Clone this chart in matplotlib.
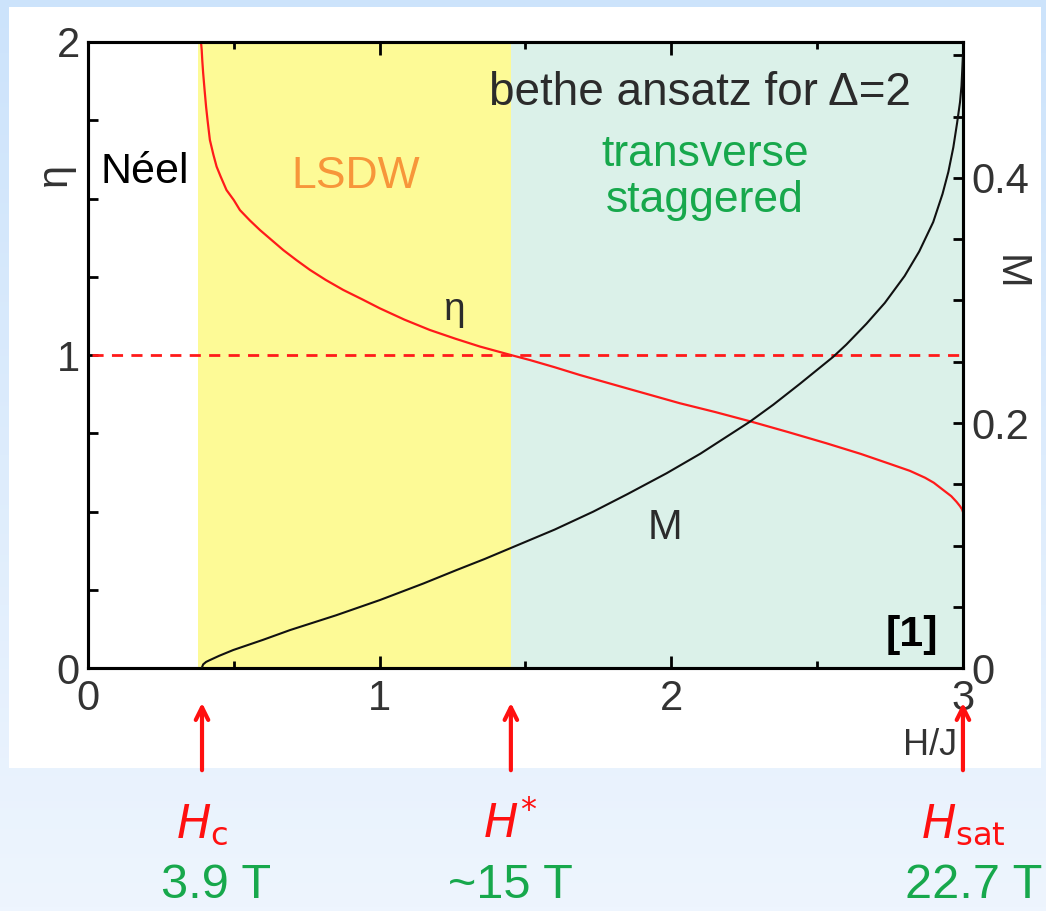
import numpy as np
import matplotlib.pyplot as plt
import matplotlib.transforms as mtransforms
from matplotlib.patches import Rectangle
from matplotlib.ticker import MultipleLocator, FixedLocator, FixedFormatter

plt.rcParams['font.family'] = ['Liberation Sans', 'DejaVu Sans']

# Bethe ansatz results for Delta = 2 (read in units of H/J)
h_eta = [0.387, 0.3885, 0.390, 0.392, 0.395, 0.400, 0.405, 0.410, 0.418, 0.430,
         0.441, 0.455, 0.475, 0.500, 0.521, 0.555, 0.590, 0.630, 0.670, 0.715,
         0.761, 0.815, 0.875, 0.940, 1.001, 1.085, 1.172, 1.260, 1.344, 1.450,
         1.515, 1.600, 1.687, 1.850, 2.029, 2.150, 2.275, 2.400, 2.532, 2.650,
         2.750, 2.818, 2.870, 2.900, 2.932, 2.960, 2.978, 2.990, 2.997, 3.000]
eta = [2.000, 1.990, 1.974, 1.940, 1.900, 1.845, 1.793, 1.750, 1.687, 1.640,
       1.602, 1.570, 1.527, 1.495, 1.463, 1.430, 1.399, 1.367, 1.335, 1.303,
       1.272, 1.240, 1.208, 1.178, 1.149, 1.113, 1.080, 1.052, 1.027, 1.000,
       0.984, 0.961, 0.936, 0.893, 0.846, 0.818, 0.787, 0.754, 0.718, 0.684,
       0.652, 0.630, 0.608, 0.592, 0.569, 0.549, 0.531, 0.517, 0.507, 0.499]

h_m = [0.390, 0.395, 0.405, 0.418, 0.450, 0.498, 0.600, 0.693, 0.850, 1.001,
       1.150, 1.264, 1.360, 1.450, 1.600, 1.732, 1.850, 1.984, 2.100, 2.269,
       2.350, 2.441, 2.555, 2.600, 2.669, 2.732, 2.800, 2.850, 2.898, 2.930,
       2.950, 2.967, 2.980, 2.990, 2.995, 3.000]
m = [0.000, 0.003, 0.005, 0.0065, 0.010, 0.0147, 0.023, 0.031, 0.043, 0.0555,
     0.069, 0.080, 0.089, 0.098, 0.113, 0.1276, 0.142, 0.159, 0.175, 0.201,
     0.215, 0.232, 0.254, 0.264, 0.281, 0.298, 0.320, 0.340, 0.364, 0.387,
     0.405, 0.425, 0.445, 0.462, 0.475, 0.500]

# phase boundaries
h_c, h_star, h_sat = 0.385, 1.45, 3.0
field_names = [r'$\mathit{H}_\mathrm{c}$', r'$\mathit{H}^{*}$', r'$\mathit{H}_\mathrm{sat}$']
field_values = ['3.9 T', '~15 T', '22.7 T']

fig = plt.figure(figsize=(10.46, 9.11), dpi=100)

# slide background: pale blue gradient with a white panel
bg = fig.add_axes([0, 0, 1, 1])
grad = np.linspace(0, 1, 256).reshape(-1, 1)
c_top = np.array([204, 227, 251]) / 255
c_bot = np.array([238, 245, 254]) / 255
img = c_top + (c_bot - c_top) * grad[:, :, None]
bg.imshow(img, aspect='auto', extent=[0, 1, 0, 1], origin='upper')
bg.add_patch(Rectangle((0.0086, 0.157), 0.9866, 0.8353, color='white', lw=0))
bg.set_xlim(0, 1)
bg.set_ylim(0, 1)
bg.axis('off')

ax = fig.add_axes([0.0841, 0.2667, 0.8365, 0.6872])
ax.set_xlim(0, 3)
ax.set_ylim(0, 2)

ax.axvspan(0.377, h_star, color='#fdfa96', lw=0, zorder=0)
ax.axvspan(h_star, h_sat, color='#dbf1e9', lw=0, zorder=0)

ax.axhline(1, xmin=0.005, xmax=0.995, color='#ff1a1a', lw=2, dashes=(4, 3), zorder=2)
ax.plot(h_eta, eta, color='#ff1a1a', lw=1.6, zorder=3)

ax2 = ax.twinx()
ax2.set_ylim(0, 0.511)
ax2.plot(h_m, m, color='#111111', lw=1.5, zorder=3)

for a in (ax, ax2):
    for s in a.spines.values():
        s.set_linewidth(2.2)

tick_col = '#333333'
ax.xaxis.set_major_locator(MultipleLocator(1))
ax.xaxis.set_minor_locator(MultipleLocator(0.5))
ax.yaxis.set_major_locator(MultipleLocator(1))
ax.yaxis.set_minor_locator(MultipleLocator(0.25))
ax.tick_params(axis='x', which='both', direction='in', top=True, bottom=True,
               labelsize=30, labelcolor=tick_col, pad=8, width=2)
ax.tick_params(axis='x', which='major', length=9)
ax.tick_params(axis='x', which='minor', length=5)
ax.tick_params(axis='y', which='both', direction='in', left=True, right=False,
               labelsize=30, labelcolor=tick_col, pad=6, width=2, length=7)

ax2.yaxis.set_major_locator(FixedLocator([0, 0.2, 0.4]))
ax2.yaxis.set_major_formatter(FixedFormatter(['0', '0.2', '0.4']))
ax2.yaxis.set_minor_locator(MultipleLocator(0.05))
ax2.tick_params(axis='y', which='both', direction='in', labelsize=30,
                labelcolor=tick_col, pad=6, width=2, length=7)

fig.text(0.0526, 0.808, 'η', fontsize=30, color=tick_col, rotation=90,
         ha='center', va='center')
fig.text(0.9656, 0.7014, 'M', fontsize=30, color=tick_col, rotation=-90,
         ha='center', va='center')

# phase labels
ax.text(0.195, 1.585, 'Néel', fontsize=31, color='black', ha='center', va='center')
ax.text(0.919, 1.569, 'LSDW', fontsize=32, color='#f7963a', ha='center', va='center')
ax.text(2.098, 1.837, 'bethe ansatz for Δ=2', fontsize=33, color='#2b2b2b',
        ha='center', va='center')
ax.text(2.115, 1.566, 'transverse\nstaggered', fontsize=32, color='#17a84c',
        ha='center', va='center', linespacing=1.15)
ax.text(1.258, 1.144, 'η', fontsize=28, color='#2b2b2b', ha='center', va='center')
ax.text(1.978, 0.447, 'M', fontsize=30, color='#2b2b2b', ha='center', va='center')
ax.text(2.825, 0.105, '[1]', fontsize=31, color='black', ha='center', va='center',
        fontweight='bold')
ax.text(2.886, -0.246, 'H/J', fontsize=26, color=tick_col, ha='center', va='center')

# arrows marking the critical fields
trans = mtransforms.blended_transform_factory(ax.transData, fig.transFigure)
for h, name in zip([0.391, h_star, h_sat], field_names):
    ax.annotate('', xy=(h, 0.2316), xycoords=trans, xytext=(h, 0.1515),
                textcoords=trans, annotation_clip=False,
                arrowprops=dict(arrowstyle='->,head_length=0.9,head_width=0.45',
                                color='#ff1010', lw=3))
    ax.text(h, 0.0944, name, transform=trans, fontsize=33, color='#ff1010',
            ha='center', va='center')

# field values in tesla under each arrow
ax.text(0.44, 0.0285, field_values[0], transform=trans, fontsize=35,
        color='#17a84c', ha='center', va='center')
ax.text(h_star, 0.0285, field_values[1], transform=trans, fontsize=35,
        color='#17a84c', ha='center', va='center')
fig.text(0.997, 0.0285, field_values[2], fontsize=35, color='#17a84c',
         ha='right', va='center')

fig.savefig('out.png', dpi=100)
